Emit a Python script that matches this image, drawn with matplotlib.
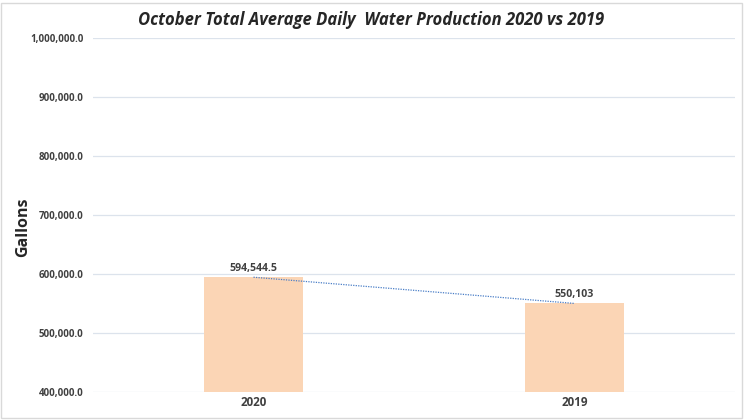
import matplotlib
matplotlib.use("Agg")
import matplotlib.pyplot as plt
from matplotlib.patches import Rectangle
from matplotlib.ticker import FuncFormatter

categories = ["2020", "2019"]
values = [594544.5, 550103]
value_labels = ["594,544.5", "550,103"]
yticks = [400000, 500000, 600000, 700000, 800000, 900000, 1000000]

plt.rcParams['font.family'] = ['Open Sans', 'DejaVu Sans']

fig = plt.figure(figsize=(7.49, 4.2), dpi=100)
ax = fig.add_axes([93/749, 1-392/420, (735-93)/749, (392-38)/420])

x = list(range(len(categories)))
ax.bar(x, values, width=0.31, color="#FBD5B5", zorder=2)
ax.plot(x, values, linestyle=(0, (1, 1)), color="#4A7EC7", linewidth=0.9, zorder=3)

for xi, v, lab in zip(x, values, value_labels):
    ax.annotate(lab, (xi, v), xytext=(0, 2.5), textcoords="offset points",
                ha="center", va="bottom", fontsize=7.6, fontweight="bold", color="#404040")

ax.set_xlim(-0.5, 1.5)
ax.set_ylim(400000, 1000000)
ax.set_yticks(yticks)
ax.yaxis.set_major_formatter(FuncFormatter(lambda v, p: f"{v:,.1f}"))
ax.set_xticks(x)
ax.set_xticklabels(categories, fontsize=8.4, fontweight="bold", color="#404040")
for t in ax.get_yticklabels():
    t.set_fontsize(7.0)
    t.set_fontweight("bold")
    t.set_color("#404040")
ax.tick_params(axis="both", length=0)
ax.tick_params(axis="y", pad=7)
ax.tick_params(axis="x", pad=3)
ax.grid(axis="y", color="#DCE3EC", linewidth=0.9, zorder=0)
ax.set_axisbelow(True)
for s in ax.spines.values():
    s.set_visible(False)

ax.set_ylabel("Gallons", fontsize=11.5, fontweight="bold", color="#262626")
ax.yaxis.set_label_coords(-0.097, 0.466)
fig.text((137+605)/2/749, 1-20/420, "October Total Average Daily  Water Production 2020 vs 2019",
         ha="center", va="center", fontsize=12, fontweight="bold", style="italic", color="#262626")

fig.patches.append(Rectangle((0.002, 0.004), 0.988, 0.988, transform=fig.transFigure,
                             fill=False, edgecolor="#D9D9D9", linewidth=1.0))

fig.savefig("out.png", dpi=100)
